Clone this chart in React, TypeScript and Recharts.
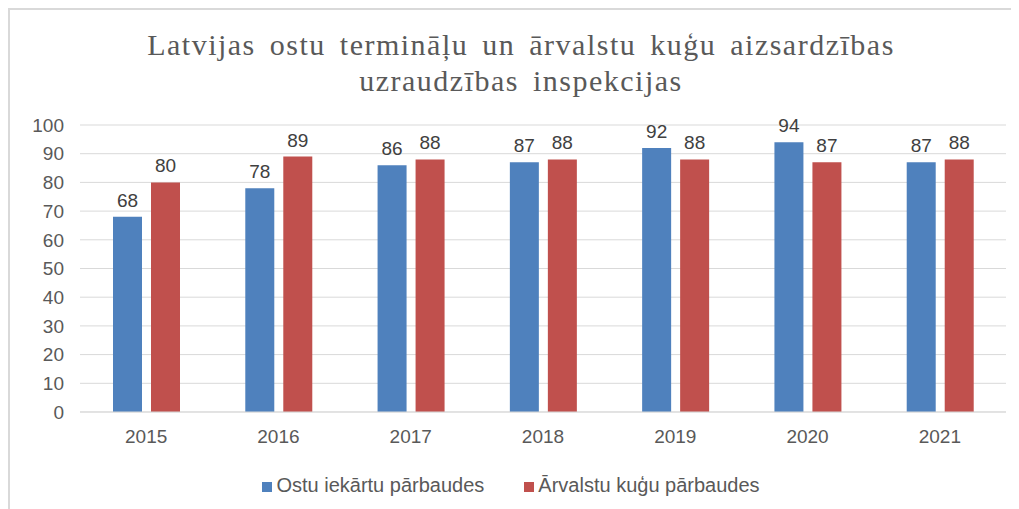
import { BarChart, Bar, XAxis, YAxis, CartesianGrid, Legend, LabelList } from "recharts";

const years = ["2015", "2016", "2017", "2018", "2019", "2020", "2021"];
const ostuIekartuParbaudes = [68, 78, 86, 87, 92, 94, 87];
const arvalstuKuguParbaudes = [80, 89, 88, 88, 88, 87, 88];
const yTicks = [0, 10, 20, 30, 40, 50, 60, 70, 80, 90, 100];

const titleLines = [
  "Latvijas ostu termināļu un ārvalstu kuģu aizsardzības",
  "uzraudzības inspekcijas",
];

const chartData = years.map((year, i) => ({
  year,
  ostu: ostuIekartuParbaudes[i],
  kugu: arvalstuKuguParbaudes[i],
}));

const textColor = "#595959";
const font = "'Liberation Sans', Arial, sans-serif";

export default function App() {
  return (
    <div
      style={{
        position: "relative",
        width: 1011,
        height: 501,
        borderTop: "2px solid #d9d9d9",
        borderLeft: "2px solid #d9d9d9",
        boxSizing: "border-box",
        background: "#fff",
        overflow: "hidden",
      }}
    >
      <div
        style={{
          position: "absolute",
          top: 17,
          left: 0,
          width: 1022,
          textAlign: "center",
          fontFamily: "'Liberation Serif', 'Times New Roman', serif",
          fontSize: 30,
          letterSpacing: 1.5,
          wordSpacing: 5,
          lineHeight: "36px",
          color: textColor,
        }}
      >
        {titleLines.map((line) => (
          <div key={line}>{line}</div>
        ))}
      </div>
      <BarChart
        width={1009}
        height={499}
        data={chartData}
        barSize={29}
        barGap={9}
        margin={{ top: 115, right: 13, left: 0, bottom: 34 }}
        style={{ fontFamily: font }}
      >
        <CartesianGrid stroke="#d9d9d9" vertical={false} />
        <XAxis
          dataKey="year"
          tickLine={false}
          axisLine={{ stroke: "#d9d9d9" }}
          height={40}
          tick={{ fill: textColor, fontSize: 19 }}
          tickMargin={12}
        />
        <YAxis
          domain={[0, 100]}
          ticks={yTicks}
          width={70}
          tickLine={false}
          axisLine={false}
          tick={{ fill: textColor, fontSize: 19 }}
          tickMargin={10}
        />
        <Legend
          iconType="square"
          iconSize={10}
          wrapperStyle={{ fontSize: 20, color: textColor, bottom: 12, left: 23 }}
          formatter={(value) => <span style={{ color: textColor, marginRight: 30 }}>{value}</span>}
        />
        <Bar dataKey="ostu" name="Ostu iekārtu pārbaudes" fill="#4F81BD" isAnimationActive={false}>
          <LabelList dataKey="ostu" position="top" offset={10} fill="#404040" fontSize={19} />
        </Bar>
        <Bar dataKey="kugu" name="Ārvalstu kuģu pārbaudes" fill="#C0504D" isAnimationActive={false}>
          <LabelList dataKey="kugu" position="top" offset={10} fill="#404040" fontSize={19} />
        </Bar>
      </BarChart>
    </div>
  );
}
